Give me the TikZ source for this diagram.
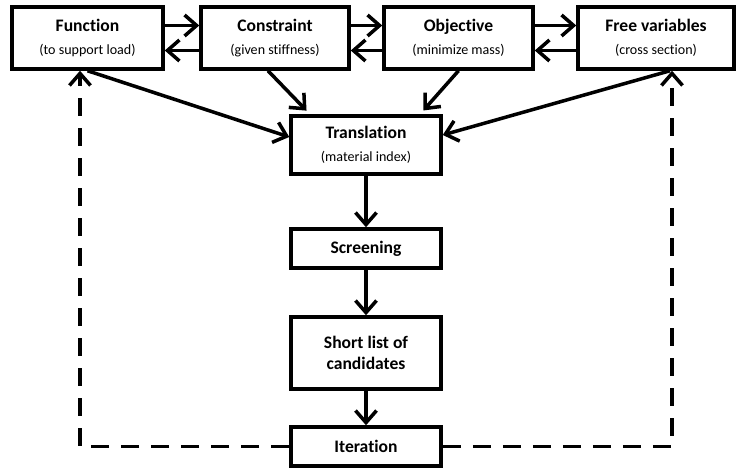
\documentclass[tikz,border=0pt]{standalone}
\usepackage{fontspec}
\setmainfont{Carlito}[Ligatures=CommonOff]
\usetikzlibrary{arrows.meta, positioning}

\begin{document}
\begin{tikzpicture}[
  box/.style={draw, line width=2pt, minimum height=1.24cm, inner sep=2pt,
              align=center, font=\normalsize\bfseries},
  arr/.style={-{Straight Barb[length=0.24cm, width=0.42cm]}, line width=2pt},
  loopline/.style={line width=2.6pt, dash pattern=on 0.36cm off 0.24cm}
]
\useasboundingbox (0,0) rectangle (14.84,-9.36);

% Problem definition
\node[box, minimum width=3.02cm] (fun) at (1.75, -0.76) {Function\\[1pt]{\footnotesize\mdseries (to support load)}};
\node[box, minimum width=2.96cm] (con) at (5.5, -0.76) {Constraint\\[1pt]{\footnotesize\mdseries (given stiffness)}};
\node[box, minimum width=2.98cm] (obj) at (9.17, -0.76) {Objective\\[1pt]{\footnotesize\mdseries (minimize mass)}};
\node[box, minimum width=3.12cm] (fv) at (13.12, -0.76) {Free variables\\[1pt]{\footnotesize\mdseries (cross section)}};

\foreach \a/\b in {fun/con, con/obj, obj/fv} {
  \draw[arr] ([yshift=0.25cm]\a.east) -- ([yshift=0.25cm]\b.west);
  \draw[arr] ([yshift=-0.25cm]\b.west) -- ([yshift=-0.25cm]\a.east);
}

% Selection
\node[box, minimum width=3cm, minimum height=1.16cm] (trans) at (7.32, -2.9) {Translation\\[1pt]{\footnotesize\mdseries (material index)}};
\node[box, minimum width=3cm, minimum height=0.78cm] (scr) at (7.32, -4.97) {Screening};
\node[box, minimum width=3cm, minimum height=1.44cm] (short) at (7.32, -7.06) {Short list of\\candidates};
\node[box, minimum width=3cm, minimum height=0.78cm] (it) at (7.32, -8.93) {Iteration};

\draw[arr] (fun.south) -- ([yshift=0.16cm]trans.west);
\draw[arr, shorten >=0.1cm] ([xshift=-0.14cm]con.south) -- ([xshift=-1.12cm]trans.north);
\draw[arr, shorten >=0.1cm] (obj.south) -- ([xshift=1.08cm]trans.north);
\draw[arr] ([xshift=0.28cm]fv.south) -- ([yshift=0.2cm]trans.east);

\draw[arr] (trans) -- (scr);
\draw[arr] (scr) -- (short);
\draw[arr] (short) -- (it);

% Iteration loop
\draw[loopline, arr] (it.west) -| ([xshift=-0.15cm]fun.south);
\draw[loopline, arr] (it.east) -| ([xshift=0.32cm]fv.south);
\end{tikzpicture}
\end{document}
